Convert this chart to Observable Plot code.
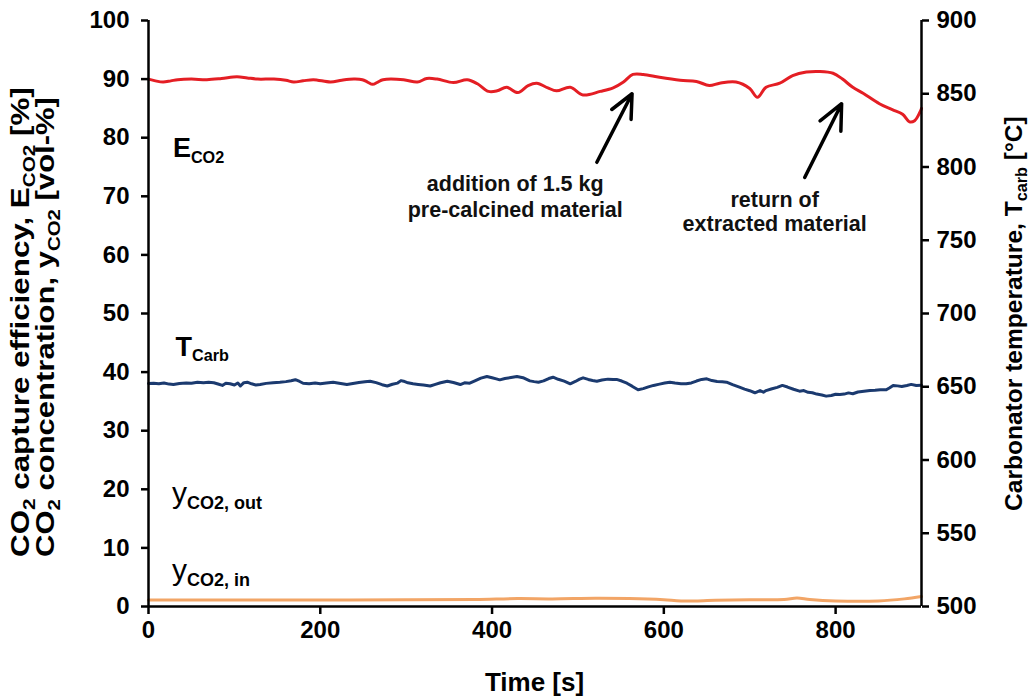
<!DOCTYPE html>
<html>
<head>
<meta charset="utf-8">
<script src="https://cdn.jsdelivr.net/npm/d3@7"></script>
<script src="https://cdn.jsdelivr.net/npm/@observablehq/plot@0.6"></script>
<style>
  html, body { margin: 0; padding: 0; background: #fff; }
  #chart svg { display: block; }
</style>
</head>
<body>
<div id="chart"></div>
<script>
// Axis ticks
const timeTicks = [0, 200, 400, 600, 800];
const leftTicks = [0, 10, 20, 30, 40, 50, 60, 70, 80, 90, 100];
const tempTicks = [500, 550, 600, 650, 700, 750, 800, 850, 900];

// CO2 capture efficiency E_CO2 [%]
const effTime  = [0, 8, 17, 26, 34, 50, 68, 85, 103, 115, 127, 146, 160, 169, 180, 192, 212, 225, 239, 249, 255, 261, 267, 273, 297, 313, 324, 336, 355, 371, 383, 396, 406, 417, 430, 442, 452, 465, 475, 491, 506, 526, 541, 553, 564, 576, 595, 619, 638, 653, 665, 684, 700, 709, 719, 735, 750, 766, 781, 797, 808, 820, 832, 851, 866, 878, 886, 892, 898, 900];
const effValue = [90.0, 89.7, 89.5, 89.7, 89.9, 90.0, 89.9, 90.1, 90.4, 90.2, 90.0, 90.0, 89.8, 89.5, 89.7, 89.9, 89.5, 89.8, 90.0, 89.9, 89.5, 89.1, 89.5, 89.9, 89.9, 89.5, 90.1, 90.0, 89.4, 89.9, 89.2, 87.9, 88.0, 88.6, 87.7, 88.9, 89.3, 88.5, 88.0, 88.6, 87.3, 87.9, 88.5, 89.5, 90.8, 90.8, 90.3, 89.8, 89.6, 88.9, 89.3, 89.5, 88.4, 86.9, 88.6, 89.3, 90.6, 91.2, 91.3, 91.0, 90.0, 88.6, 87.6, 85.8, 84.8, 84.0, 82.7, 82.9, 84.3, 85.0];

// Carbonator temperature T_carb [°C]
const tempTime  = [0, 6, 12, 18, 24, 29, 36, 44, 50, 57, 64, 70, 76, 81, 86, 90, 95, 100, 104, 107, 111, 115, 120, 125, 130, 137, 145, 153, 160, 166, 171, 176, 180, 187, 194, 200, 207, 215, 222, 231, 238, 245, 252, 258, 265, 272, 278, 284, 290, 294, 297, 302, 308, 314, 320, 328, 334, 340, 348, 355, 363, 368, 374, 380, 387, 394, 400, 405, 409, 415, 422, 429, 436, 444, 449, 454, 460, 466, 471, 477, 484, 491, 497, 502, 506, 512, 517, 522, 528, 535, 541, 545, 551, 557, 563, 570, 576, 582, 588, 595, 601, 607, 613, 620, 626, 632, 638, 644, 650, 656, 662, 668, 673, 680, 688, 694, 700, 706, 712, 716, 719, 725, 732, 738, 744, 751, 758, 763, 768, 773, 778, 784, 789, 795, 800, 805, 810, 815, 820, 826, 833, 840, 846, 852, 859, 863, 867, 872, 877, 883, 888, 894, 900];
const tempValue = [652.2, 652.4, 652.0, 652.6, 651.8, 651.5, 652.2, 652.6, 652.4, 653.1, 652.7, 653.0, 652.7, 651.9, 650.9, 652.4, 652.0, 651.2, 652.6, 650.5, 652.8, 653.1, 652.0, 651.2, 651.5, 652.3, 652.8, 653.1, 653.5, 654.1, 654.8, 653.6, 652.4, 652.1, 652.6, 652.0, 652.5, 653.1, 652.4, 651.5, 652.2, 652.9, 653.4, 653.8, 652.8, 651.4, 650.5, 651.7, 652.5, 654.2, 653.8, 652.7, 652.0, 651.6, 651.2, 650.5, 651.6, 652.7, 653.8, 652.9, 651.5, 652.7, 652.4, 654.0, 655.9, 657.0, 656.1, 655.4, 654.7, 655.6, 656.3, 657.0, 656.2, 654.0, 653.5, 653.1, 654.0, 655.6, 656.5, 655.1, 653.8, 652.0, 653.6, 655.2, 656.1, 655.0, 654.3, 653.8, 654.6, 655.2, 655.0, 655.0, 653.9, 652.4, 650.4, 647.9, 648.7, 649.9, 650.9, 651.8, 652.5, 653.1, 652.5, 652.1, 652.0, 652.6, 653.9, 655.0, 655.4, 654.2, 653.6, 653.4, 653.1, 651.4, 649.7, 648.4, 647.3, 645.9, 647.4, 646.3, 647.4, 648.5, 649.6, 650.9, 649.8, 648.3, 647.0, 647.4, 646.2, 645.9, 645.0, 644.4, 643.6, 644.0, 644.9, 644.7, 645.0, 645.8, 645.2, 646.4, 646.9, 647.4, 647.6, 647.9, 647.9, 649.3, 650.9, 650.6, 650.2, 650.9, 651.6, 650.8, 651.1];

// Inlet CO2 concentration y_CO2,in [vol-%]
const inTime  = [0, 100, 200, 300, 380, 430, 470, 520, 560, 600, 620, 660, 700, 740, 755, 770, 800, 850, 880, 900];
const inValue = [1.1, 1.1, 1.1, 1.15, 1.2, 1.35, 1.3, 1.4, 1.35, 1.15, 0.95, 1.05, 1.15, 1.2, 1.45, 1.2, 0.95, 0.95, 1.3, 1.7];

// Event annotations
const noteText = ["addition of 1.5 kg", "pre-calcined material", "return of", "extracted material"];
const noteTime = [427, 427, 729, 729];
const noteLevel = [72.0, 67.7, 69.3, 65.2];
const arrowFromTime = [522, 764];
const arrowFromLevel = [75.8, 73.2];
const arrowToTime = [563, 807];
const arrowToLevel = [87.5, 85.8];

// Temperatures share the left scale: 500..900 °C maps onto 0..100
const tempToLeft = T => (T - 500) / 4;
const leftToTemp = v => 500 + 4 * v;

const effRows = effTime.map((t, i) => ({t, v: effValue[i]}));
const tempRows = tempTime.map((t, i) => ({t, v: tempToLeft(tempValue[i])}));
const inRows = inTime.map((t, i) => ({t, v: inValue[i]}));
const noteRows = noteText.map((text, i) => ({text, t: noteTime[i], v: noteLevel[i]}));
const arrowRows = arrowFromTime.map((t, i) => ({
  x1: t, y1: arrowFromLevel[i], x2: arrowToTime[i], y2: arrowToLevel[i]
}));

const FONT = "'Liberation Sans', Arial, Helvetica, sans-serif";
const NARROW = "'Liberation Sans Narrow', 'Arial Narrow', 'Liberation Sans', Arial, sans-serif";
const AXIS_W = 2.5;

const plot = Plot.plot({
  width: 1031,
  height: 698,
  marginLeft: 148,
  marginRight: 110,
  marginTop: 20,
  marginBottom: 92,
  x: {domain: [0, 900]},
  y: {domain: [0, 100]},
  style: {fontFamily: FONT, fontWeight: "bold", color: "#000", background: "#fff", overflow: "visible"},
  marks: [
    Plot.line(inRows, {x: "t", y: "v", stroke: "#f2a566", strokeWidth: 3, curve: "catmull-rom"}),
    Plot.line(tempRows, {x: "t", y: "v", stroke: "#1b3a6f", strokeWidth: 3}),
    Plot.line(effRows, {x: "t", y: "v", stroke: "#e41e24", strokeWidth: 3, curve: "catmull-rom"}),
    Plot.ruleX([0, 900], {stroke: "#000", strokeWidth: AXIS_W}),
    Plot.ruleY([0], {stroke: "#000", strokeWidth: AXIS_W}),
    Plot.axisY({ticks: leftTicks, tickSize: 7, tickPadding: 12, strokeWidth: AXIS_W, fontSize: 24, label: null}),
    Plot.axisY({anchor: "right", ticks: tempTicks.map(tempToLeft), tickFormat: leftToTemp,
                tickSize: 7, tickPadding: 8, strokeWidth: AXIS_W, fontSize: 24, label: null}),
    Plot.axisX({ticks: timeTicks, tickSize: 8, tickPadding: 6, strokeWidth: AXIS_W, fontSize: 24, label: null}),
    Plot.arrow(arrowRows, {x1: "x1", y1: "y1", x2: "x2", y2: "y2", stroke: "#000",
                           strokeWidth: 3.5, headLength: 16, headAngle: 50}),
    Plot.text(noteRows, {x: "t", y: "v", text: "text", fontSize: 21.5, fontWeight: "bold", fill: "#111"})
  ]
});

document.getElementById("chart").append(plot);

const xs = plot.scale("x"), ys = plot.scale("y");
const svg = d3.select(plot);

// Text with subscript runs: parts are [string, isSubscript]
function richText(parent, parts, size, subScale = 0.66, subDrop = 0.22) {
  const text = parent.append("text").attr("font-size", size).attr("text-anchor", "start");
  let shift = 0;
  for (const [str, sub] of parts) {
    const ts = text.append("tspan").text(str);
    const target = sub ? size * subDrop : 0;
    if (target !== shift) { ts.attr("dy", target - shift); shift = target; }
    if (sub) ts.attr("font-size", size * subScale);
  }
  return text;
}

// Series labels inside the plot area
const seriesLabels = [
  {t: 29, v: 76.6, parts: [["E", false], ["CO2", true]], font: FONT, weight: "bold", size: 27},
  {t: 32, v: 42.7, parts: [["T", false], ["Carb", true]], font: FONT, weight: "bold", size: 27},
  {t: 28, v: 17.6, parts: [["y", false], ["CO2, out", true]], font: NARROW, weight: "normal", size: 30},
  {t: 28, v: 4.4, parts: [["y", false], ["CO2, in", true]], font: NARROW, weight: "normal", size: 30}
];
for (const s of seriesLabels) {
  const g = svg.append("g")
    .attr("transform", `translate(${xs.apply(s.t)},${ys.apply(s.v)})`)
    .attr("font-family", s.font).attr("font-weight", s.weight).attr("fill", "#000");
  const t = richText(g, s.parts, s.size, 0.6, 0.2);
  t.selectAll("tspan").filter((d, i) => i > 0).attr("font-weight", "bold");
}

// Axis titles; vertical ones run bottom-to-top from yBottom over the given length
const titles = svg.append("g").attr("font-family", FONT).attr("font-weight", "bold").attr("fill", "#000");

function verticalTitle(parts, size, x, yBottom, length) {
  const g = titles.append("g");
  const text = richText(g, parts, size);
  const w = text.node().getBBox().width;
  const k = length / w;
  g.attr("transform", `translate(${x},${yBottom}) rotate(-90) scale(${k},1)`);
}

verticalTitle([["CO", false], ["2", true], [" capture efficiency, E", false], ["CO2", true], [" [%]", false]],
  25, 29, 557, 470);
verticalTitle([["CO", false], ["2", true], [" concentration, y", false], ["CO2", true], [" [vol-%]", false]],
  25, 54, 557, 460);
verticalTitle([["Carbonator temperature, T", false], ["carb", true], [" [°C]", false]],
  24.5, 1022, 511, 395);

titles.append("text")
  .attr("x", (xs.apply(0) + xs.apply(900)) / 2)
  .attr("y", 691)
  .attr("text-anchor", "middle")
  .attr("font-size", 26)
  .text("Time [s]");
</script>
</body>
</html>
